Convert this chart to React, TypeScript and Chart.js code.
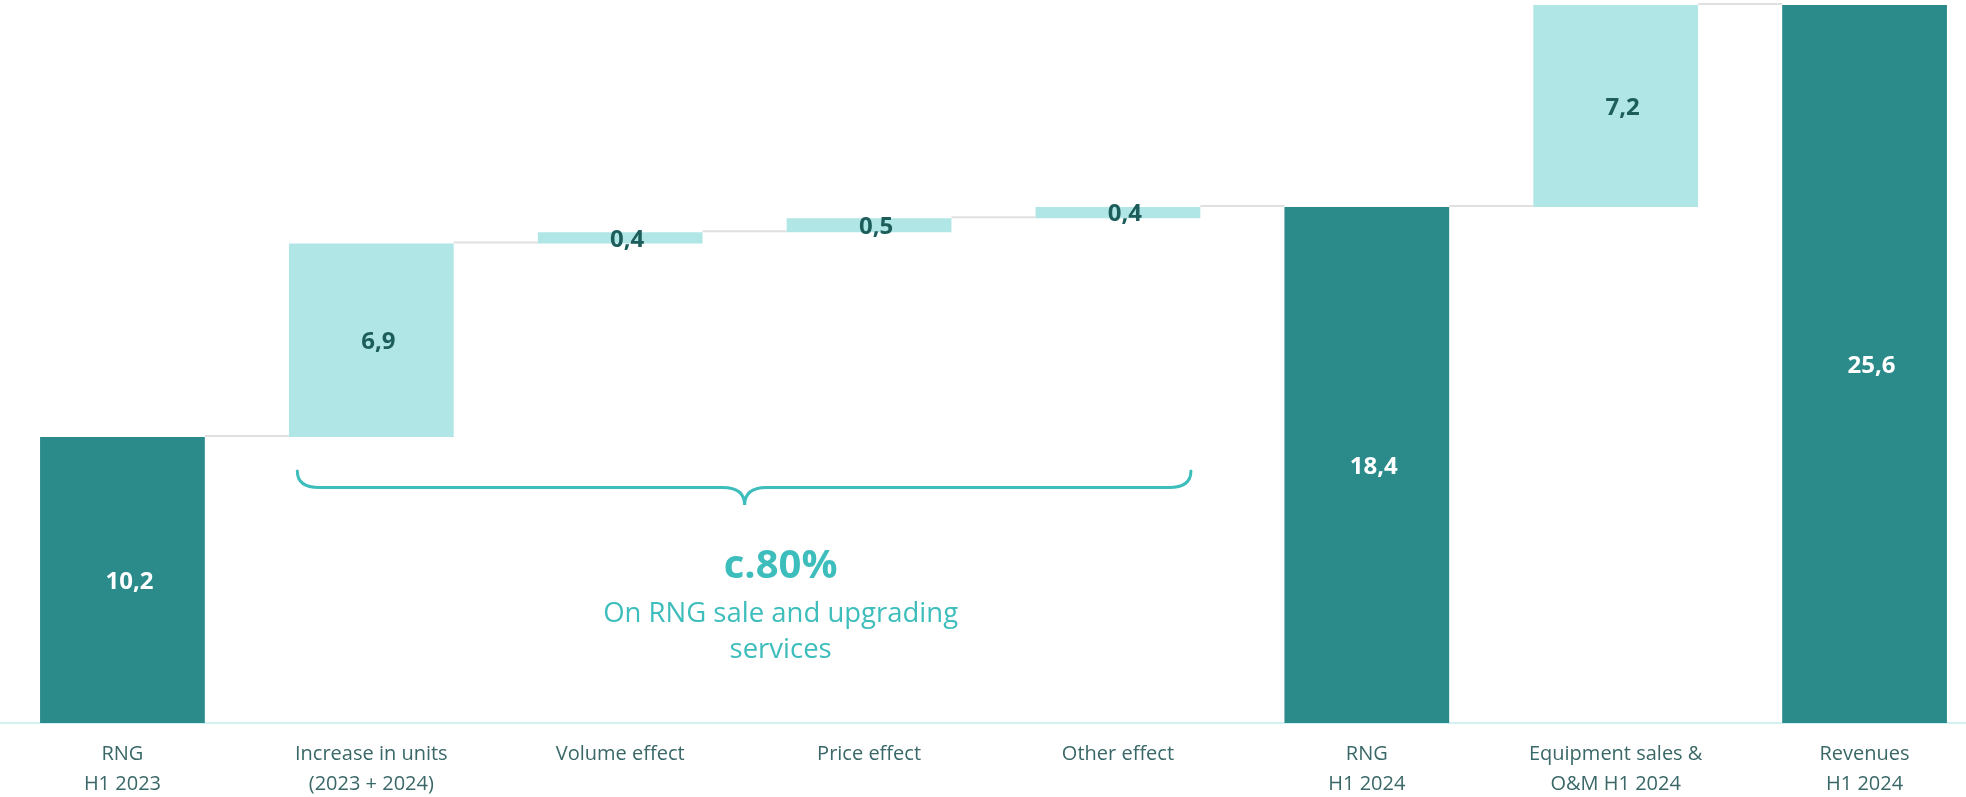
import React, { useEffect, useRef } from "react";
import { Chart, registerables } from "chart.js";

Chart.register(...registerables);

const categories: string[][] = [
  ["RNG", "H1 2023"],
  ["Increase in units", "(2023 + 2024)"],
  ["Volume effect"],
  ["Price effect"],
  ["Other effect"],
  ["RNG", "H1 2024"],
  ["Equipment sales &", "O&M H1 2024"],
  ["Revenues", "H1 2024"],
];
const values: number[] = [10.2, 6.9, 0.4, 0.5, 0.4, 18.4, 7.2, 25.6];
const isTotal: boolean[] = [true, false, false, false, false, true, false, true];
const valueLabels: string[] = ["10,2", "6,9", "0,4", "0,5", "0,4", "18,4", "7,2", "25,6"];

const braceTitle = "c.80%";
const braceText: string[] = ["On RNG sale and upgrading", "services"];

const DARK = "#2b8b8a";
const LIGHT = "#b0e6e5";
const ACCENT = "#3dbdbb";
const FONT = "'Open Sans', 'Noto Sans', sans-serif";

// build floating ranges for the waterfall
const ranges: [number, number][] = [];
{
  let run = 0;
  values.forEach((v, i) => {
    if (isTotal[i]) {
      ranges.push([0, v]);
      run = v;
    } else {
      ranges.push([run, run + v]);
      run = run + v;
    }
  });
}

const connectorPlugin = {
  id: "connectors",
  beforeDatasetsDraw(chart: any) {
    const meta = chart.getDatasetMeta(0);
    const y = chart.scales.y;
    const ctx = chart.ctx;
    ctx.save();
    ctx.strokeStyle = "#e0e0e0";
    ctx.lineWidth = 2;
    for (let i = 0; i < meta.data.length - 1; i++) {
      const a = meta.data[i];
      const b = meta.data[i + 1];
      const level = ranges[i][1];
      const py = y.getPixelForValue(level) - 1;
      ctx.beginPath();
      ctx.moveTo(a.x + a.width / 2, py);
      ctx.lineTo(b.x - b.width / 2, py);
      ctx.stroke();
    }
    ctx.restore();
  },
};

const valueLabelPlugin = {
  id: "valueLabels",
  afterDatasetsDraw(chart: any) {
    const meta = chart.getDatasetMeta(0);
    const ctx = chart.ctx;
    ctx.save();
    ctx.font = `bold 24px ${FONT}`;
    ctx.textAlign = "center";
    ctx.textBaseline = "middle";
    meta.data.forEach((el: any, i: number) => {
      const cy = (el.y + el.base) / 2 + 2;
      ctx.fillStyle = isTotal[i] ? "#ffffff" : "#1d5e5c";
      ctx.fillText(valueLabels[i], el.x + 7, cy);
    });
    ctx.restore();
  },
};

const bracePlugin = {
  id: "brace",
  afterDatasetsDraw(chart: any) {
    const x = chart.scales.x;
    const ctx = chart.ctx;
    const left = x.getPixelForValue(1) - 74;
    const right = x.getPixelForValue(4) + 73;
    const mid = (x.getPixelForValue(1) + x.getPixelForValue(4)) / 2;
    const top = 471;
    const line = 487.5;
    const tip = 505;
    const r = 22;
    ctx.save();
    ctx.strokeStyle = ACCENT;
    ctx.lineWidth = 3;
    ctx.lineCap = "round";
    ctx.beginPath();
    ctx.moveTo(left, top);
    ctx.quadraticCurveTo(left, line, left + r, line);
    ctx.lineTo(mid - r, line);
    ctx.quadraticCurveTo(mid, line, mid, tip);
    ctx.quadraticCurveTo(mid, line, mid + r, line);
    ctx.lineTo(right - r, line);
    ctx.quadraticCurveTo(right, line, right, top);
    ctx.stroke();

    const tx = mid + 36;
    ctx.fillStyle = ACCENT;
    ctx.textAlign = "center";
    ctx.textBaseline = "alphabetic";
    ctx.font = `bold 40px ${FONT}`;
    ctx.fillText(braceTitle, tx, 578);
    ctx.font = `27.5px ${FONT}`;
    ctx.fillText(braceText[0], tx, 622);
    ctx.fillText(braceText[1], tx, 658);
    ctx.restore();
  },
};

export default function App() {
  const ref = useRef<HTMLCanvasElement | null>(null);
  useEffect(() => {
    if (!ref.current) return;
    const chart = new Chart(ref.current, {
      type: "bar",
      data: {
        labels: categories,
        datasets: [
          {
            data: ranges as any,
            backgroundColor: isTotal.map((t) => (t ? DARK : LIGHT)),
            borderWidth: 0,
            borderSkipped: false,
            categoryPercentage: 1,
            barPercentage: 0.662,
          },
        ],
      },
      options: {
        responsive: false,
        devicePixelRatio: 1,
        animation: false,
        layout: { padding: { top: 5, left: 0, right: 0, bottom: 0 } },
        plugins: {
          legend: { display: false },
          tooltip: { enabled: false },
          title: { display: false },
        },
        scales: {
          x: {
            type: "category",
            offset: true,
            grid: { display: false, drawTicks: false },
            border: { display: true, color: "#d4f1f1", width: 2 },
            ticks: {
              padding: 17,
              color: "#3a6767",
              font: { family: FONT, size: 20, lineHeight: "29.5px" as any },
              maxRotation: 0,
              autoSkip: false,
            },
            afterFit: (scale: any) => {
              scale.height = 74;
            },
          },
          y: {
            display: false,
            min: 0,
            max: 25.6,
          },
        },
      },
      plugins: [connectorPlugin, valueLabelPlugin, bracePlugin],
    });
    return () => chart.destroy();
  }, []);

  return (
    <div
      style={{
        position: "absolute",
        left: 0,
        top: 0,
        width: 1966,
        height: 797,
        overflow: "hidden",
        background: "#ffffff",
      }}
    >
      <div style={{ position: "absolute", left: -2, top: 0, width: 1991, height: 797 }}>
        <canvas ref={ref} width={1991} height={797} style={{ display: "block" }} />
      </div>
    </div>
  );
}
